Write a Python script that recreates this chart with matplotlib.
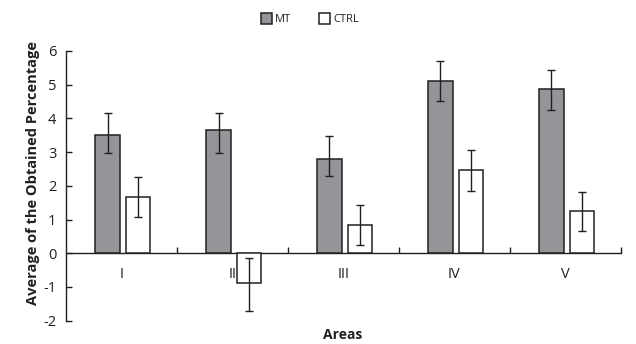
import matplotlib
matplotlib.use("Agg")
import matplotlib.pyplot as plt
import numpy as np

areas = ["I", "II", "III", "IV", "V"]
mt_values = [3.5, 3.66, 2.8, 5.12, 4.86]
mt_err_low = [0.52, 0.68, 0.51, 0.59, 0.6]
mt_err_high = [0.66, 0.5, 0.68, 0.59, 0.58]
ctrl_values = [1.67, -0.88, 0.84, 2.47, 1.24]
ctrl_err_low = [0.6, 0.83, 0.6, 0.61, 0.59]
ctrl_err_high = [0.59, 0.75, 0.58, 0.58, 0.59]

plt.rcParams['font.family'] = ['Open Sans', 'DejaVu Sans']
plt.rcParams['axes.unicode_minus'] = False

fig = plt.figure(figsize=(6.36, 3.44), dpi=100)
ax = fig.add_axes([66/636, 1-320.7/344, (620.7-66)/636, (320.7-51)/344])

x = np.arange(1, len(areas) + 1)
w = 0.22
ebkw = dict(elinewidth=1.0, capthick=1.0, ecolor='#231f20')
ax.bar(x - 0.125, mt_values, w, yerr=[mt_err_low, mt_err_high], capsize=3.2, color='#939598',
       edgecolor='#231f20', linewidth=1.1, label='MT', error_kw=ebkw, zorder=3)
ax.bar(x + 0.15, ctrl_values, w, yerr=[ctrl_err_low, ctrl_err_high], capsize=3.2, color='white',
       edgecolor='#231f20', linewidth=1.1, label='CTRL', error_kw=ebkw, zorder=3)

ax.set_xlim(0.5, 5.5)
ax.set_ylim(-2, 6)
ax.set_yticks(range(-2, 7))
ax.spines['top'].set_visible(False)
ax.spines['right'].set_visible(False)
ax.spines['bottom'].set_position(('data', 0))
for s in ['left', 'bottom']:
    ax.spines[s].set_linewidth(1.0)
    ax.spines[s].set_color('#231f20')

ax.set_xticks(np.arange(1.5, 6.0, 1.0))
ax.set_xticklabels([])
ax.set_xticks(x, minor=True)
ax.set_xticklabels(areas, minor=True)
ax.tick_params(axis='x', which='major', direction='in', length=4, width=1.0, color='#231f20')
ax.tick_params(axis='x', which='minor', length=0, pad=10, labelsize=10.5, labelcolor='#231f20')
ax.tick_params(axis='y', direction='in', length=4, width=1.0, color='#231f20',
               labelsize=10.5, labelcolor='#231f20', pad=7)

fig.text(343/636, 1-335/344, 'Areas', ha='center', va='center', fontsize=10,
         fontweight='bold', color='#231f20')
fig.text(33/636, 1-173/344, 'Average of the Obtained Percentage', ha='center', va='center',
         rotation=90, fontsize=10.5, fontweight='bold', color='#231f20')

fig.legend(loc='center', bbox_to_anchor=(310/636, 1-19/344), ncol=2, frameon=False,
           fontsize=8, handlelength=1.0, handleheight=1.1, handletextpad=0.3,
           columnspacing=2.5, labelcolor='#231f20')

fig.savefig('out.png', dpi=100)
